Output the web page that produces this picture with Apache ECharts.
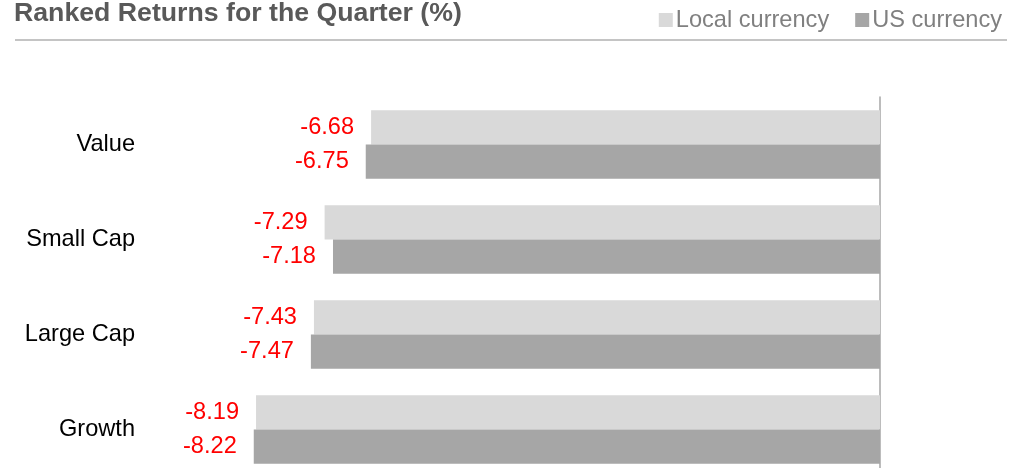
<!DOCTYPE html>
<html>
<head>
<meta charset="utf-8">
<script src="https://cdn.jsdelivr.net/npm/echarts@6/dist/echarts.min.js"></script>
<style>
html,body{margin:0;padding:0;background:#fff;}
#chart{width:1023px;height:468px;}
</style>
</head>
<body>
<div id="chart"></div>
<script>
// categories, top to bottom
var categories = ['Value', 'Small Cap', 'Large Cap', 'Growth'];
var localCurrency = [-6.68, -7.29, -7.43, -8.19];
var usCurrency = [-6.75, -7.18, -7.47, -8.22];
var seriesNames = ['Local currency', 'US currency'];

var myChart = echarts.init(document.getElementById('chart'));
var font = 'Liberation Sans, Arial, sans-serif';

myChart.setOption({
    backgroundColor: '#fff',
    animation: false,
    title: {
        text: 'Ranked Returns for the Quarter (%)',
        left: 9,
        top: -5,
        textStyle: {
            fontFamily: font,
            fontSize: 26.7,
            fontWeight: 'bold',
            color: '#595959'
        }
    },
    legend: {
        right: 16,
        top: 3,
        itemWidth: 14,
        itemHeight: 14,
        itemGap: 26,
        icon: 'rect',
        textStyle: {
            fontFamily: font,
            fontSize: 23.6,
            color: '#808080',
            padding: [0, 0, 0, -2]
        },
        data: seriesNames
    },
    graphic: [{
        type: 'line',
        shape: {x1: 15, y1: 40, x2: 1007, y2: 40},
        style: {stroke: '#c4c4c4', lineWidth: 2}
    }],
    grid: {
        left: 141,
        right: 143,
        top: 97,
        bottom: -9,
        outerBoundsMode: 'none'
    },
    xAxis: {
        type: 'value',
        min: -9.7,
        max: 0,
        show: false
    },
    yAxis: [{
        type: 'category',
        inverse: true,
        data: categories,
        axisLine: {show: false},
        axisTick: {show: false},
        axisLabel: {
            margin: 6,
            fontFamily: font,
            fontSize: 23.6,
            color: '#000'
        }
    }, {
        type: 'category',
        inverse: true,
        position: 'right',
        data: categories,
        axisLine: {show: true, lineStyle: {color: '#a6a6a6', width: 1.5}},
        axisTick: {show: false},
        axisLabel: {show: false}
    }],
    series: [{
        name: seriesNames[0],
        type: 'bar',
        data: localCurrency,
        barGap: 0,
        barCategoryGap: '28%',
        itemStyle: {color: '#d9d9d9'},
        label: {
            show: true,
            position: 'left',
            distance: 17,
            fontFamily: font,
            fontSize: 23.6,
            color: '#ff0000',
            formatter: function (p) { return p.value.toFixed(2); }
        }
    }, {
        name: seriesNames[1],
        type: 'bar',
        data: usCurrency,
        barGap: 0,
        barCategoryGap: '28%',
        itemStyle: {color: '#a6a6a6'},
        label: {
            show: true,
            position: 'left',
            distance: 17,
            fontFamily: font,
            fontSize: 23.6,
            color: '#ff0000',
            formatter: function (p) { return p.value.toFixed(2); }
        }
    }]
});
</script>
</body>
</html>
